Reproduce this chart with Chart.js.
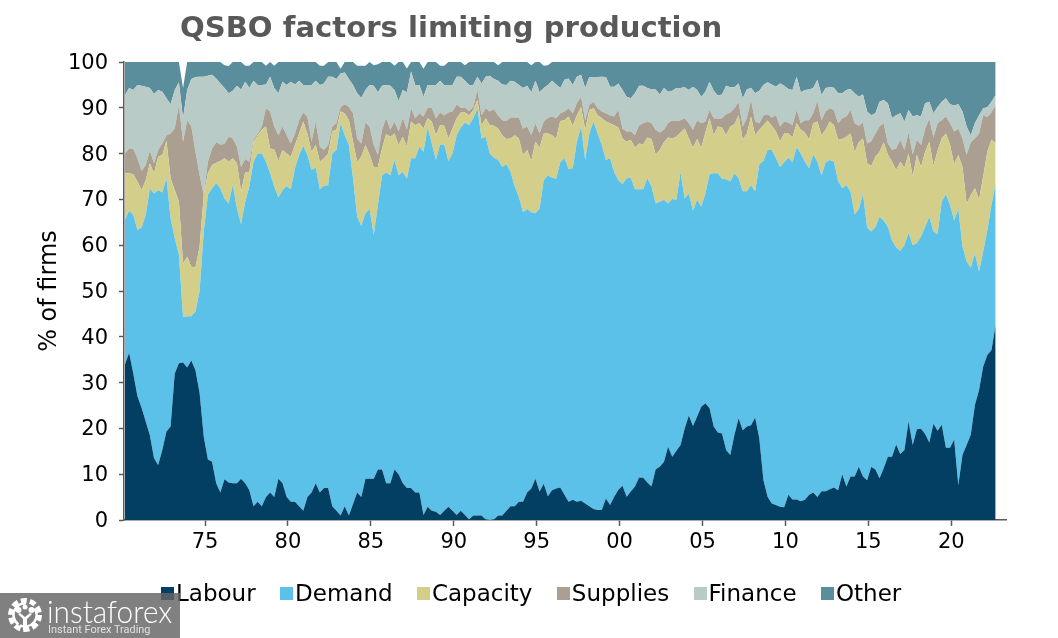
<!DOCTYPE html>
<html>
<head>
<meta charset="utf-8">
<script src="https://cdn.jsdelivr.net/npm/chart.js@4"></script>
<style>
html,body{margin:0;padding:0;background:#fff;width:1058px;height:638px;overflow:hidden;font-family:"DejaVu Sans",sans-serif}
#wrap{position:relative;width:1058px;height:638px}
#title{position:absolute;left:180px;top:10px;font-size:29.1px;font-weight:bold;color:#595959;white-space:nowrap}
#legend{position:absolute;left:161px;top:580px;display:flex;font-size:23px;color:#000;white-space:nowrap}
#legend .item{display:flex;align-items:center;margin-right:24.4px}
#legend .box{width:13px;height:13px;margin-right:2px}
#logo{position:absolute;left:0;top:593px;width:180px;height:45px;background:rgba(100,100,100,.82);color:#fff;overflow:hidden}
#logo svg{position:absolute;left:6px;top:3px}
#logo .big{position:absolute;left:47px;top:0;font:300 32px/36px Lato,sans-serif;transform:scaleX(.93);transform-origin:left top}
#logo .small{position:absolute;left:48px;top:29px;font:11.5px/14px Roboto,sans-serif;color:#e2e2e2;transform:scaleX(.95);transform-origin:left top}
</style>
</head>
<body>
<div id="wrap">
  <canvas id="qsbo" width="1058" height="638"></canvas>
  <div id="title">QSBO factors limiting production</div>
  <div id="legend"></div>
  <div id="logo">
    <svg width="38" height="38" viewBox="0 0 38 38">
      <circle cx="19" cy="19" r="14.5" fill="none" stroke="#fff" stroke-width="5" stroke-dasharray="6 3.1"/>
      <circle cx="19" cy="19" r="11.5" fill="none" stroke="#fff" stroke-width="2.5" stroke-dasharray="30 10" transform="rotate(125 19 19)"/>
      <circle cx="12.5" cy="14" r="3" fill="#fff"/><circle cx="25.5" cy="14" r="3" fill="#fff"/><circle cx="19" cy="11" r="2.5" fill="#fff"/>
      <path d="M12 18 L17 23 L17 34 L21 34 L21 23 L26 18 L24 17 L19 21 L14 17 Z" fill="#fff"/>
    </svg>
    <div class="big">instaforex</div>
    <div class="small">Instant Forex Trading</div>
  </div>
</div>
<script>
const seriesNames = ["Labour", "Demand", "Capacity", "Supplies", "Finance", "Other"];
const seriesColors = ["#033f63", "#5bc1e8", "#d3cf8b", "#ab9f92", "#b9cbc6", "#5b8e9c"];
const tickYears = [1975, 1980, 1985, 1990, 1995, 2000, 2005, 2010, 2015, 2020];
const tickLabels = ["75", "80", "85", "90", "95", "00", "05", "10", "15", "20"];

// upper edge of each band, one value per quarter
const labourTop = [
34,36.5,32,27,24.5,21.5,18.5,13.5,12,15.3,
19.3,20.4,32,34.2,34.4,33.3,34.8,32.7,27.7,18.2,
13.2,12.7,8,6,8.9,8.2,8,8,9,8,
6.5,3,4,3,5,6,5,9,8,5,
4,4,3,2,5,6,8,6,7,7,
3,2,1,3,1,3.5,6,5,9,9,
9,11,11,8,8,11,10,8,7,7,
6,6,1.1,2.9,2,1.8,1.1,2,2.9,2,
1.1,2,1.1,0.1,1,1,1,0.1,0,0.1,
1,1,2,3,3,4,4,6,6.9,9,
6.2,7.9,5.2,6.5,6.9,7.1,5.5,4,4.4,4,
4.2,3.6,3,2.4,2.2,2.2,4.7,3.3,5.1,6.6,
7.5,5.1,6.2,7.3,9.3,9.2,8.2,7.3,11.1,11.6,
12.7,16,13.8,15.1,16.4,20,22.8,20.5,22.6,24.7,
25.5,24.4,20.4,19.1,18.9,15.3,14.2,18.6,22.2,19.6,
20.4,20.7,22.4,17.8,8.7,5.1,3.6,3.3,2.9,2.8,
5.5,4.5,4.5,4.1,4.4,5.5,6,5,6.3,6.3,
6.7,7.1,6.5,10,7.3,9.5,9.5,11.6,9.5,8.7,
11.6,11,9.1,11.3,13.8,13.8,16.5,14.4,15.3,21.5,
16.4,19.8,19.9,18.8,16.9,21,19.5,20.8,15.8,15.8,
17.6,7.6,14.2,16.4,18.6,25.1,28.4,33.5,36,37.1,
42.6];
const demandTop = [
65.5,67.5,66.6,63.3,63.8,66.6,72.4,71.3,72,71.5,
74.6,65.9,61.5,57.9,44.3,44.5,44.5,45.5,50,63,
71,72.4,73.5,72.4,70.2,69.1,73.2,68,64.6,69.5,
72.8,78.2,80,80,78.2,75.7,72.8,70.4,72,72.9,
72.2,76.8,79.7,81.7,79.7,76.4,76.9,72.2,73,73.1,
80,80.8,86.6,84,81.9,74.6,66.2,64.2,67,67.9,
62.2,68.8,75.2,75.9,75.3,78.6,75.3,76,74.5,79,
79,81.5,80.4,85.7,82.2,78.6,82,82,78.4,80,
84,85.7,86.8,86.2,87.7,89.9,83.3,83.7,80,79.1,
78.6,77.1,77.7,76,72.8,70.6,67.2,67.9,67.2,67,
68,74.2,75.2,74.7,74.5,78.1,79,76.6,76.8,82.6,
85.9,78.6,84.4,87,84.4,81.9,78.6,79,76,74.2,
73.3,74.6,74.7,72.2,72.2,72.2,74.6,72.8,69.1,69.5,
69.9,69.1,70.1,69.9,76,70.2,71.3,67.5,69.9,68.4,
71.3,75.5,75.7,75.7,74.5,74.4,73.9,75.7,74.6,71.8,
71.8,73.1,71.8,77.7,78.4,80.8,80.8,79,77.1,78.1,
79.1,78.1,81.4,80,78.2,76.8,79.8,78.2,75.2,78.1,
78.6,78.2,74,72.5,73.1,71.7,66.7,67.9,71.3,63.8,
63,64,66.2,65.4,64,61.1,59.5,58.8,60,62.7,
60,60.4,61.9,64,66.2,63,62.4,69.5,71.1,68.8,
65.4,67.9,59.7,56.5,55.1,58.2,54.2,58.6,63.3,68.8,
73.5];
const capacityTop = [
75.7,75.7,75.5,73.9,72,74.2,77.9,75.7,79.3,79.7,
82.8,74.6,72,69.5,56,57.5,55.3,55.2,59.7,71,
75.7,77.5,78,78.4,79,78.2,79,77.9,71.7,76,
76,82.6,84,85.2,85.9,81.1,80.9,78.4,80.8,80,
79.3,81.9,84.4,87,84.4,80.4,81.9,78.2,79,80,
84.9,85.2,89.2,88.8,87.3,82.6,78.2,79.3,81.9,79.7,
77.1,77.1,81.1,84.3,83.7,84.4,81.9,83.7,81.5,87,
86.2,86.6,85.5,87.7,87,84,86.2,86.1,83.3,85.5,
87.7,89,89,88.3,89.5,91.7,86.2,87.7,86.2,86.1,
85.5,84,83.2,83.3,84,83.3,79.7,80.8,78.4,82.6,
81.3,84.4,84.4,84,83.3,87.1,87.3,88.1,86.1,88.4,
90.2,85.2,89.5,89.9,88.4,87.7,87,86.6,86.2,85.7,
83.3,82.6,83,81.3,82.2,82,83.5,83.2,79.8,80.8,
82.5,83.5,83.3,83.7,84.6,85.5,83.3,81.3,83.2,81.3,
84.6,87.7,84,85.9,85.7,84,85.9,86.4,88.4,83,
84.4,88.1,84,85.2,86.2,87.2,86.1,84.8,82.7,84.4,
84.4,83.5,86.6,85.2,84.6,83,86.6,87,84,85.2,
87,86.2,83,83.2,83.7,84.4,80.3,82.5,83.3,77.9,
77.3,79.3,80.4,82.5,79.8,78.2,76.4,78.2,76.9,80,
75,79.7,77.1,80.4,82.6,77.3,80.6,83.3,84.4,81.9,
77.7,79.7,77.1,69.1,70.9,72.5,69.9,75,80.4,83,
82.2];
const suppliesTop = [
80,81.1,81,79,76.2,77.5,80.6,77.9,80.8,82.2,
84,84.4,85.5,90.6,82.6,87.3,85.9,80.4,75.3,71,
78.2,81.1,82.5,82,82.1,83.7,83.3,81.5,77.1,78.8,
78.2,83,84.4,85.9,89.9,89.2,85.9,84,85.9,84,
82.2,84.4,87.3,89,88,82.6,87,81.5,80.8,81.9,
85.9,86.6,90.2,90.8,90.2,88.8,83.3,82.2,86.8,85.9,
81.9,79.7,85.2,87.8,85.2,87,84.8,87.8,85.2,89.9,
87.7,88.8,88.1,90,90,87.7,89,88.3,89,89.2,
90.8,90,90,89.3,90.2,93.9,88.4,89.9,89.2,89.7,
88.3,87.3,87.1,87.9,87.9,87.9,85.4,85.9,84,86.6,
84.4,87,87.8,88.1,87.7,88.8,89.2,89.9,88.8,91,
92.4,87.3,90.6,91.3,89.9,89.2,88.8,88.3,88.1,89.5,
85.4,84.8,84.9,84,86.2,86.6,87,86.6,85.2,84.6,
85.2,86.7,87.2,87.1,87.3,87.7,86.6,85.2,87.3,86.6,
87,89.5,87.7,87.6,87.7,88.6,89,89.9,91.2,85.9,
87.7,91.7,87,86.6,88.3,88.6,87.9,88.4,85.9,87,
86.8,86.2,89.5,86.6,87.3,87.3,88.8,91.5,87.3,89.2,
89.9,89.5,86.6,87.7,88.1,89.5,86.6,86.1,86.8,82.2,
82.7,84.4,85.9,86.6,82.2,80.8,81.1,83,80.8,84.6,
79.8,83,81.9,85.4,87.6,83.5,86.6,87.3,88.1,86.6,
84.8,85.4,83.3,79.7,82.5,83.3,84.4,88.4,88,89,
90.6];
const financeTop = [
92.8,94.3,93.9,95,94.8,94.6,94.3,93,93.9,93.5,
92.1,90.8,93.9,95.6,87.7,93.9,96.3,96.7,96.8,96.8,
97,97.2,96.4,95.3,94.3,93.2,93.7,94.8,94,95.7,
94.3,95.9,95,95,95.1,96.8,94.3,93.2,95.7,95,
95.7,95.1,95.9,95,95,95,95.9,95,95.3,96.8,
96.8,96.3,97.5,97.7,96.3,95,93.2,92.2,93.9,95,
94.8,93.4,94.8,95,94.8,93.9,91.5,93.9,93.4,97.9,
95,95,92.4,95,95,95,95.9,95,95,95,
96.8,96.8,95.9,95,95,96.8,95.3,96.8,97,96.3,
95.9,95.1,95,95.9,95.7,95,94.3,94.8,93.4,95.9,
93.4,94.3,95,95.9,95.1,94.3,96.1,96.4,95,96.8,
97.2,94.3,96.7,96.7,96.7,96.8,96.7,94.6,94.6,95.3,
93.9,92.4,92.1,93.2,94.8,94.8,94.3,94,94,92.9,
94.3,93.5,93.7,94.3,94.3,94.5,93.9,94.6,93.9,92.4,
93.5,95.7,93.7,92.7,92.9,94.8,94.5,94.5,95.3,92.1,
94,94.4,93.2,93.7,95,95.6,95.1,94.6,95.3,94.8,
94.1,93.9,96.8,93.4,93.9,94,94.3,96.1,92.8,94.3,
94.5,94.4,93.2,93.2,93.9,94.1,93.2,92.4,92.9,89.2,
88.4,88.8,91.3,91.7,91,87.8,88.4,88.8,87,89.5,
88.1,88.4,88.1,91,91.3,88.8,90.2,91.3,92.1,90.8,
90.5,90.8,89.2,85.9,84,86.6,88.4,89.9,90.1,91.3,
92.8];
const otherTop = [
100,100,100,100,100,100,100,100,100,100,
100,100,100,100,94.3,100,100,100,100,100,
100,100,100,100,99.3,99.1,100,100,100,99.2,
99.2,100,100,100,99.2,100,99.2,100,100,100,
100,100,100,100,100,100,100,99.2,99.2,100,
100,100,98.5,100,100,100,99.2,99.2,99.2,100,
99.3,99.5,100,100,100,99.2,100,100,98.6,100,
100,100,98.5,100,100,100,99.2,99.2,100,100,
100,100,99.3,100,100,100,100,100,100,100,
99.3,100,100,100,100,100,100,100,99.3,100,
100,99.2,99.3,100,100,100,100,100,100,100,
100,100,100,100,100,100,100,100,100,100,
100,100,100,100,100,100,100,100,100,100,
100,100,100,100,100,100,100,100,100,100,
100,100,100,100,100,100,100,100,100,100,
100,100,100,100,100,100,100,100,100,100,
100,100,100,100,100,100,100,100,100,100,
100,100,100,100,100,100,100,100,100,100,
100,100,100,100,100,100,100,100,100,100,
100,100,100,100,100,100,100,100,100,100,
100,100,100,100,100,100,100,100,100,100,
100];

const bandTops = [labourTop, demandTop, capacityTop, suppliesTop, financeTop, otherTop];
const firstQuarter = 1970.175;

const datasets = bandTops.map((band, b) => ({
    label: seriesNames[b],
    data: band.map((v, i) => ({x: firstQuarter + i * 0.25, y: v})),
    backgroundColor: seriesColors[b],
    borderWidth: 0,
    pointRadius: 0,
    tension: 0,
    fill: b === 0 ? "origin" : "-1"
}));

const axisFont = {family: "'DejaVu Sans'", size: 21};
const axisGrey = "#5a5a5a";

new Chart(document.getElementById("qsbo"), {
    type: "line",
    data: {datasets: datasets},
    options: {
        responsive: false,
        animation: false,
        layout: {padding: {left: 0, right: 52, top: 62, bottom: 0}},
        plugins: {legend: {display: false}, title: {display: false}, tooltip: {enabled: false}},
        scales: {
            x: {
                type: "linear",
                min: 1970.115,
                max: 2023.3,
                border: {color: axisGrey, width: 1.5},
                grid: {drawOnChartArea: false, tickLength: 6, tickColor: axisGrey, tickWidth: 1.5},
                ticks: {
                    color: "#000",
                    font: axisFont,
                    padding: 4,
                    maxRotation: 0,
                    autoSkip: false,
                    callback: value => tickLabels[tickYears.indexOf(value)]
                },
                afterBuildTicks: scale => { scale.ticks = tickYears.map(v => ({value: v})); },
                afterFit: scale => { scale.height = 118; }
            },
            y: {
                min: 0,
                max: 100,
                border: {color: axisGrey, width: 1.5},
                grid: {drawOnChartArea: false, tickLength: 5, tickColor: axisGrey, tickWidth: 1.5},
                ticks: {color: "#000", font: axisFont, stepSize: 10, padding: 11, labelOffset: 1.5},
                title: {display: true, text: "% of firms", color: "#000", font: {family: "'DejaVu Sans'", size: 24}, padding: {top: 35, bottom: 8}},
                afterFit: scale => { scale.width = 124; }
            }
        }
    }
});

// legend row sits under the plot, as in the original export
const legendBox = document.getElementById("legend");
seriesNames.forEach((name, i) => {
    const item = document.createElement("div");
    item.className = "item";
    item.innerHTML = `<span class="box" style="background:${seriesColors[i]}"></span><span>${name}</span>`;
    legendBox.appendChild(item);
});
</script>
</body>
</html>
